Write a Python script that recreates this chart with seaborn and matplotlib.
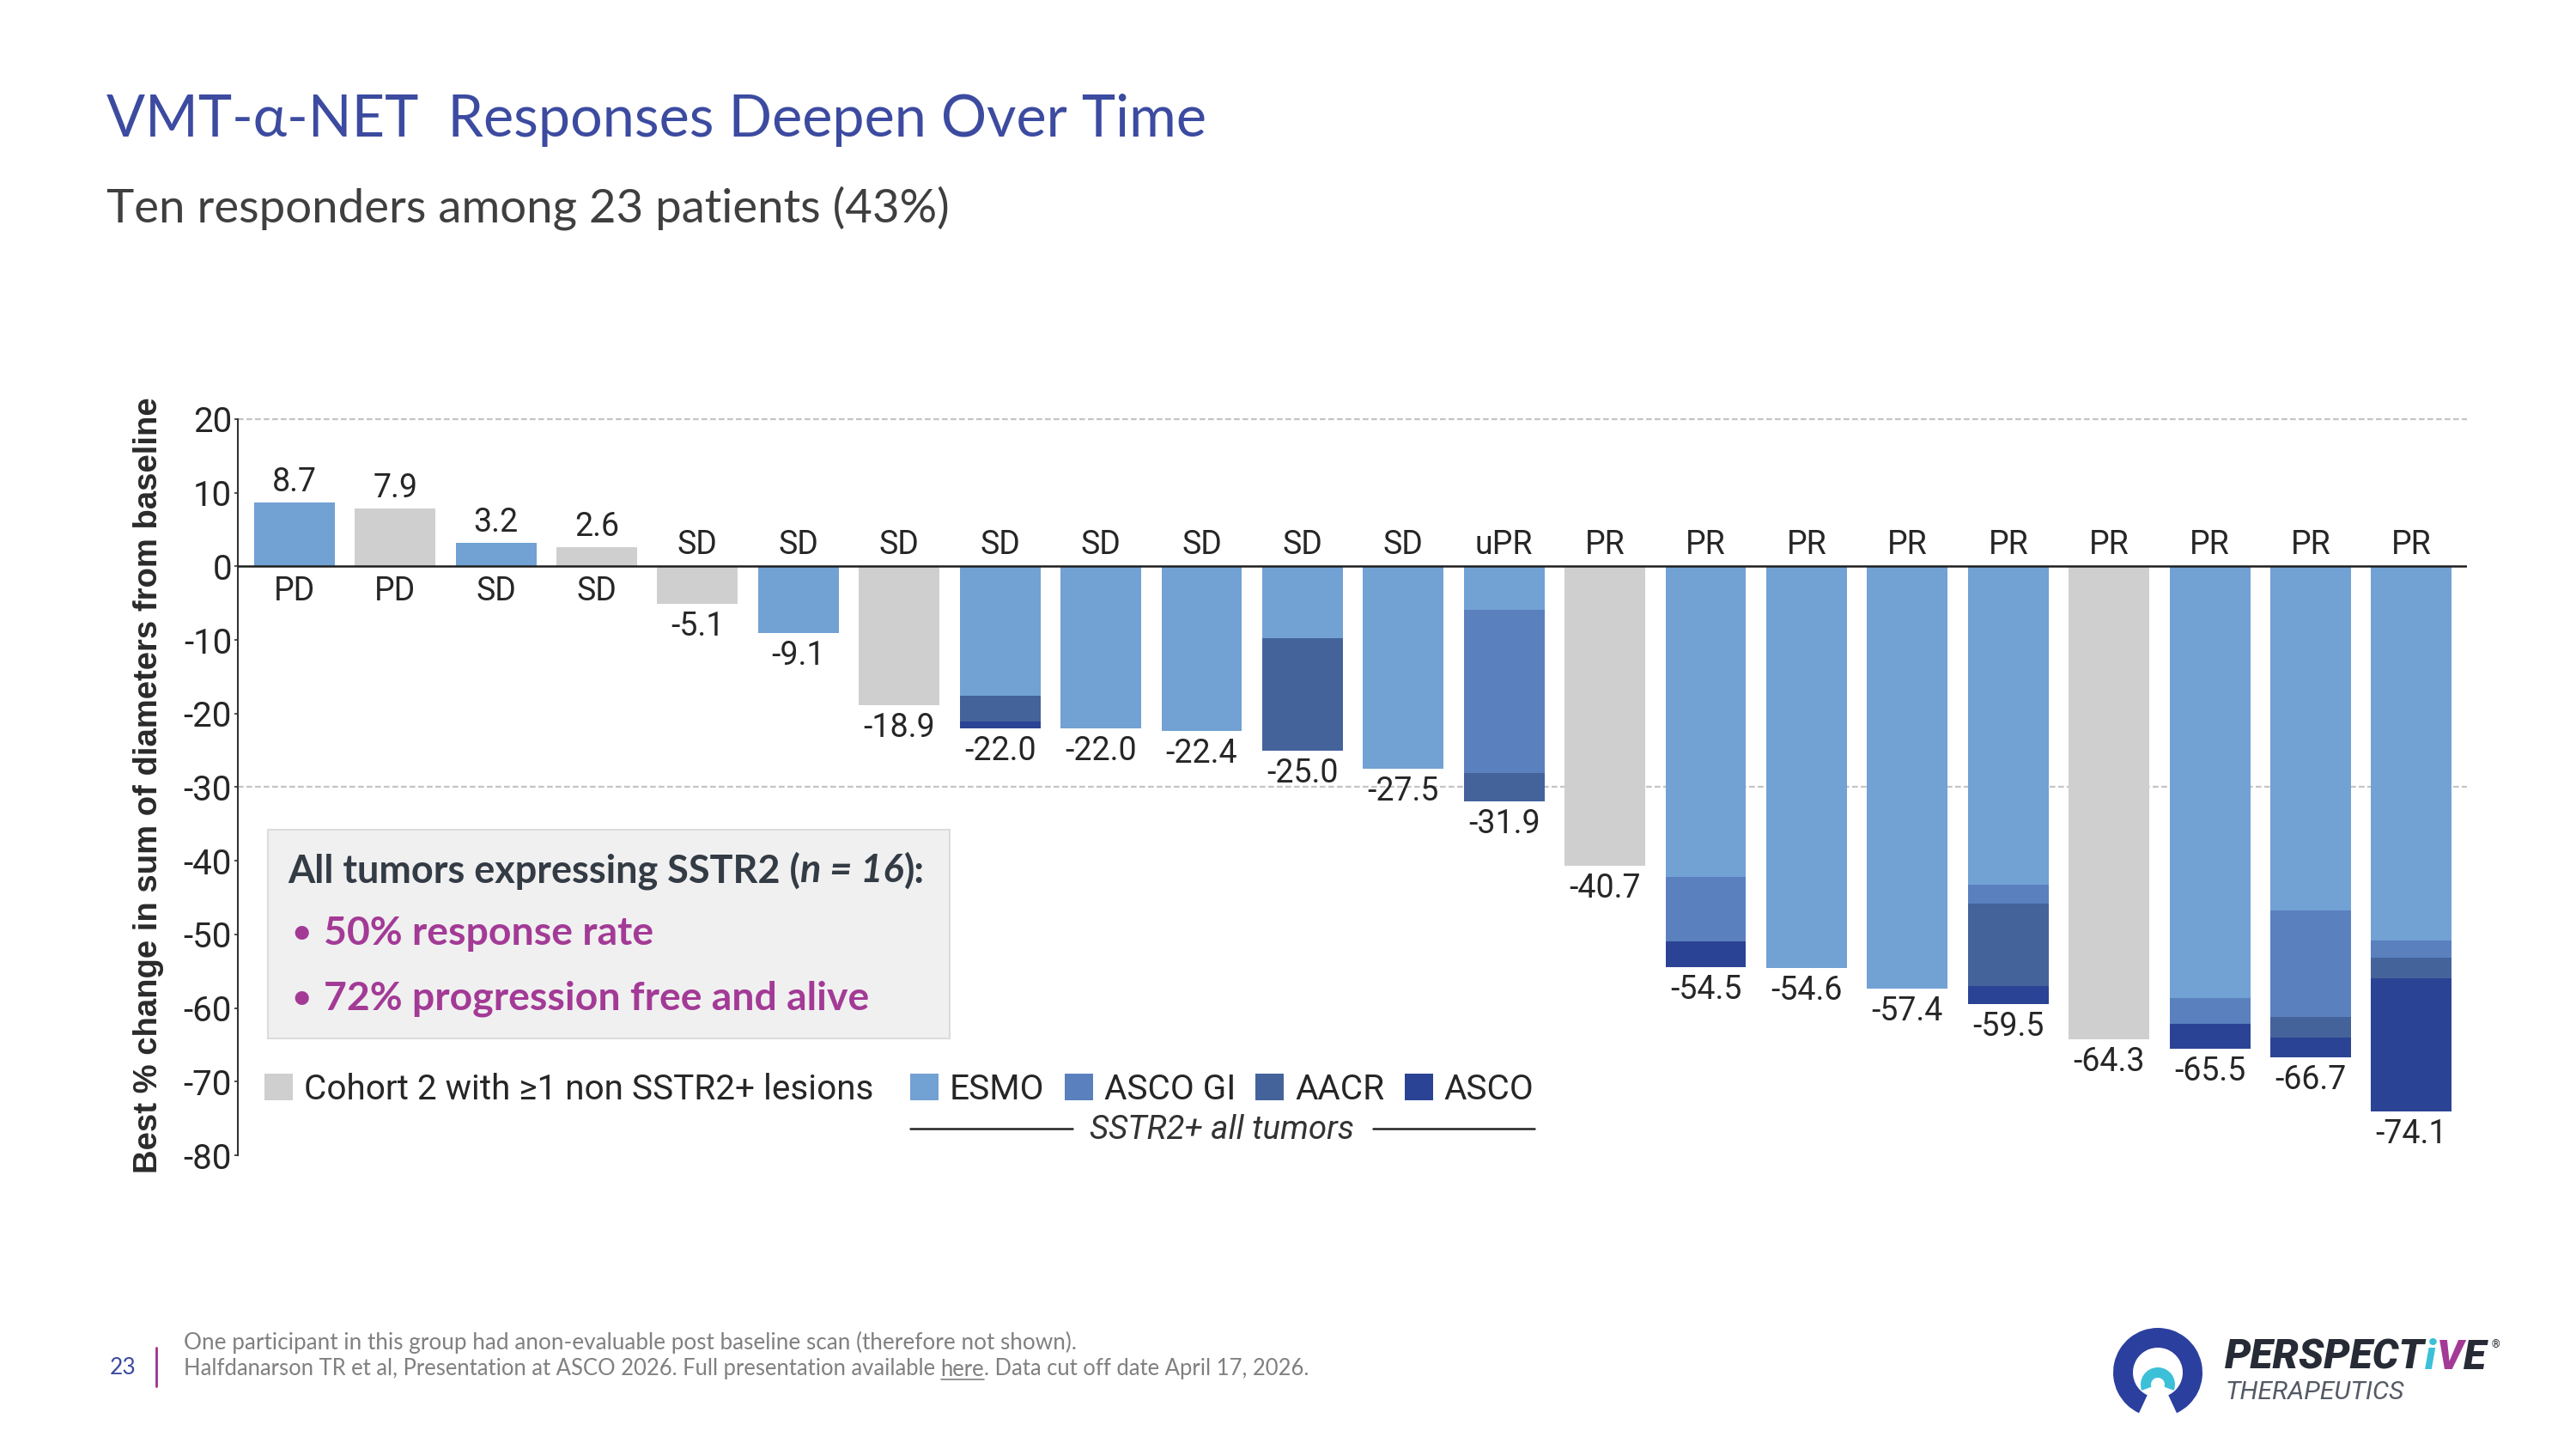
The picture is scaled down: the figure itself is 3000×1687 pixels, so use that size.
import numpy as np
import pandas as pd
import matplotlib
matplotlib.use("Agg")
import matplotlib.pyplot as plt
from matplotlib import font_manager as fm
from matplotlib.patches import Rectangle, Wedge, Patch
from matplotlib.lines import Line2D
import seaborn as sns

# ---------------- data ----------------
patients = list(range(22))
best_change = [8.7, 7.9, 3.2, 2.6, -5.1, -9.1, -18.9, -22.0, -22.0, -22.4, -25.0,
               -27.5, -31.9, -40.7, -54.5, -54.6, -57.4, -59.5, -64.3, -65.5, -66.7, -74.1]
response = ["PD", "PD", "SD", "SD", "SD", "SD", "SD", "SD", "SD", "SD", "SD",
            "SD", "uPR", "PR", "PR", "PR", "PR", "PR", "PR", "PR", "PR", "PR"]
# Cohort 2 with >=1 non SSTR2+ lesions (grey bars)
cohort2 = [None, 7.9, None, 2.6, -5.1, None, -18.9, None, None, None, None,
           None, None, -40.7, None, None, None, None, -64.3, None, None, None]
# SSTR2+ tumours: best change as reported at each meeting (cumulative depth)
esmo = [8.7, None, 3.2, None, None, -9.1, None, -17.6, -22.0, -22.4, -9.7,
        -27.5, -5.9, None, -42.2, -54.6, -57.4, -43.2, None, -58.7, -46.7, -50.8]
asco_gi = [8.7, None, 3.2, None, None, -9.1, None, -17.6, -22.0, -22.4, -9.7,
           -27.5, -28.1, None, -51.0, -54.6, -57.4, -45.8, None, -62.2, -61.2, -53.2]
aacr = [8.7, None, 3.2, None, None, -9.1, None, -21.1, -22.0, -22.4, -25.0,
        -27.5, -31.9, None, -51.0, -54.6, -57.4, -57.0, None, -62.2, -64.0, -56.0]
asco = [8.7, None, 3.2, None, None, -9.1, None, -22.0, -22.0, -22.4, -25.0,
        -27.5, -31.9, None, -54.5, -54.6, -57.4, -59.5, None, -65.5, -66.7, -74.1]
y_ticks = [20, 10, 0, -10, -20, -30, -40, -50, -60, -70, -80]

C_GRAY = "#D0CFD0"
C_ESMO = "#72A1D4"
C_GI = "#5A80BE"
C_AACR = "#44639B"
C_ASCO = "#2B4394"
TXT = "#262626"
MAGENTA = "#A33A96"
TITLE_BLUE = "#3C4BA0"

# ---------------- fonts ----------------
sns.set_theme(style="white")
names = {f.name for f in fm.fontManager.ttflist}
COND = "Liberation Sans Narrow" if "Liberation Sans Narrow" in names else "Roboto"
plt.rcParams["font.family"] = ["Roboto", "DejaVu Sans"]
SLIDE = ["Lato", "Open Sans", "DejaVu Sans"]

W, H = 3000, 1687
fig = plt.figure(figsize=(30, 16.87), dpi=100)
fig.patch.set_facecolor("white")
R = fig.canvas.get_renderer()


def fx(x):
    return x / W


def fy(y):
    return 1 - y / H


def fit(t, target):
    w = t.get_window_extent(R).width
    t.set_fontsize(t.get_fontsize() * target / w)
    return t


def runs(x, y, parts, size, target=None, **common):
    def draw(sz):
        texts, cur = [], x
        for s, kw, gap in parts:
            t = fig.text(fx(cur), fy(y), s, fontsize=sz, ha="left", va="center",
                         **{**common, **kw})
            texts.append(t)
            cur += t.get_window_extent(R).width + gap * sz * 100 / 72
        return texts, cur
    texts, end = draw(size)
    if target:
        tot = end - x
        for t in texts:
            t.remove()
        texts, end = draw(size * target / tot)
    return texts, end


# ---------------- axes ----------------
top_px, bot_px = 479.4, 1349.3
ax = fig.add_axes([fx(277), fy(bot_px), (2873 - 277) / W, (bot_px - top_px) / H])

ax.axhline(20, color="#C4C4C4", ls=(0, (3, 1.5)), lw=1.6, zorder=0)
ax.axhline(-30, color="#C4C4C4", ls=(0, (3, 1.5)), lw=1.6, zorder=0)

layers = [(asco, C_ASCO), (aacr, C_AACR), (asco_gi, C_GI), (esmo, C_ESMO), (cohort2, C_GRAY)]
for vals, col in layers:
    d = pd.DataFrame({"patient": patients, "change": vals}).dropna()
    sns.barplot(data=d, x="patient", y="change", order=patients, color=col,
                saturation=1, width=0.8, errorbar=None, linewidth=0, ax=ax, zorder=2)

ax.axhline(0, color="#1E1E1E", lw=1.8, zorder=3)
ax.set_xlim(-0.56, 21.55)
ax.set_ylim(-80.5, 21)
ax.set_xticks([])
ax.set_xlabel("")
ax.set_yticks(y_ticks)
ax.set_yticklabels([str(v) for v in y_ticks], family=COND, fontsize=29, color=TXT)
ax.tick_params(axis="y", left=True, length=3, width=1.2, color="#333333", pad=2)
sns.despine(ax=ax, bottom=True)
ax.spines["left"].set_color("#333333")
ax.spines["left"].set_linewidth(1.5)
ax.spines["left"].set_bounds(-80, 20)
ax.set_ylabel("Best % change in sum of diameters from baseline", family="Liberation Sans",
              fontweight="bold", fontsize=27.5, color="#2A2A2A")
ax.yaxis.set_label_coords(-0.0330, 0.5)

for i, (v, r) in enumerate(zip(best_change, response)):
    if v >= 0:
        ax.annotate(f"{v:.1f}", (i, v), xytext=(0, 17), textcoords="offset points",
                    ha="center", va="center", fontsize=27, color=TXT)
        ax.annotate(r, (i, 0), xytext=(0, -21), textcoords="offset points",
                    ha="center", va="center", fontsize=27, color=TXT)
    else:
        ax.annotate(r, (i, 0), xytext=(0, 18), textcoords="offset points",
                    ha="center", va="center", fontsize=27, color=TXT)
        ax.annotate(f"{v:.1f}", (i, v), xytext=(0, -19), textcoords="offset points",
                    ha="center", va="center", fontsize=27, color=TXT)

# ---------------- title ----------------
t = fig.text(fx(124), fy(140), "VMT-\u03b1-NET  Responses Deepen Over Time", ha="left",
             va="center", fontsize=50, color=TITLE_BLUE, family=SLIDE)
fit(t, 1282)
t = fig.text(fx(124), fy(242), "Ten responders among 23 patients (43%)", ha="left",
             va="center", fontsize=36, color="#3F3F3F", family=SLIDE)
fit(t, 982)

# ---------------- text box ----------------
fig.add_artist(Rectangle((fx(312), fy(1209)), (1106 - 312) / W, (1209 - 966) / H,
                         transform=fig.transFigure, facecolor="#F0F0F0",
                         edgecolor="#DCDCDC", lw=1.5, zorder=5))
runs(335, 1014, [("All tumors expressing SSTR2 (", {}, 0.0),
                 ("n = 16", {"style": "italic"}, 0.02),
                 ("):", {}, 0)],
     30, target=742, family=SLIDE, fontweight="bold", color="#333B45", zorder=6)
bt, _ = runs(377, 1163, [("72% progression free and alive", {}, 0)], 30, target=633,
             family=SLIDE, fontweight="bold", color=MAGENTA, zorder=6)
bsize = bt[0].get_fontsize()
fig.text(fx(377), fy(1087), "50% response rate", ha="left", va="center", fontsize=bsize,
         family=SLIDE, fontweight="bold", color=MAGENTA, zorder=6)
for yy in (1087, 1163):
    fig.text(fx(340), fy(yy), "\u2022", ha="left", va="center", fontsize=bsize * 0.8,
             family=SLIDE, fontweight="bold", color=MAGENTA, zorder=6)

# ---------------- legend ----------------
probe = fig.text(0, 0, "Cohort 2 with \u22651 non SSTR2+ lesions", fontsize=30, family=COND)
fs_leg = 30 * 664 / probe.get_window_extent(R).width
probe.remove()
hl = 23.8 / fs_leg
leg1 = fig.legend(handles=[Patch(facecolor=C_GRAY, edgecolor="none")],
                  labels=["Cohort 2 with \u22651 non SSTR2+ lesions"],
                  loc="center left", bbox_to_anchor=(fx(308), fy(1268)),
                  frameon=False, prop={"family": COND, "size": fs_leg},
                  handlelength=hl, handleheight=hl, handletextpad=9.4 / fs_leg,
                  borderpad=0, borderaxespad=0, labelcolor=TXT)
leg2 = fig.legend(handles=[Patch(facecolor=c, edgecolor="none") for c in (C_ESMO, C_GI, C_AACR, C_ASCO)],
                  labels=["ESMO", "ASCO GI", "AACR", "ASCO"], ncol=4,
                  loc="center left", bbox_to_anchor=(fx(1060), fy(1268)),
                  frameon=False, prop={"family": COND, "size": fs_leg},
                  handlelength=hl, handleheight=hl, handletextpad=9.4 / fs_leg,
                  columnspacing=16.6 / fs_leg,
                  borderpad=0, borderaxespad=0, labelcolor=TXT)
for x0, x1 in ((1060, 1249), (1599, 1787)):
    fig.add_artist(Line2D([fx(x0), fx(x1)], [fy(1314), fy(1314)], transform=fig.transFigure,
                          color="#222222", lw=1.8))
fig.text(fx(1423), fy(1316), "SSTR2+ all tumors", ha="center", va="center",
         fontsize=fs_leg * 0.95, family=COND, style="italic", color="#333333")

# ---------------- footer ----------------
fig.text(fx(128), fy(1592), "23", ha="left", va="center", fontsize=19, family=SLIDE,
         color=TITLE_BLUE)
fig.add_artist(Line2D([fx(182), fx(182)], [fy(1569), fy(1614)], transform=fig.transFigure,
                      color="#A0308F", lw=2))
t = fig.text(fx(214), fy(1563), "One participant in this group had anon-evaluable post baseline scan (therefore not shown).",
             ha="left", va="center", fontsize=14, family=SLIDE, color="#808080")
fit(t, 1041)
ft, _ = runs(214, 1594, [("Halfdanarson TR et al, Presentation at ASCO 2026. Full presentation available", {}, 0.25),
                         ("here", {}, 0.0),
                         (". Data cut off date April 17, 2026.", {}, 0)],
             14, target=1312, family=SLIDE, color="#808080")
bb = ft[1].get_window_extent(R)
fig.add_artist(Line2D([bb.x0 / W, bb.x1 / W], [(bb.y0 + 1) / H, (bb.y0 + 1) / H],
                      transform=fig.transFigure, color="#808080", lw=1.2))

# ---------------- logo ----------------
fig.add_artist(Wedge((2513 / 100, (H - 1598) / 100), 0.52, -65, 245, width=0.23,
                     transform=fig.dpi_scale_trans, facecolor="#2B3F9E", edgecolor="none"))
fig.add_artist(Wedge((2513 / 100, (H - 1612) / 100), 0.20, -20, 200, width=0.12,
                     transform=fig.dpi_scale_trans, facecolor="#3CC0D8", edgecolor="none"))
runs(2591, 1581, [("PERSPECT", {"color": "#262B36"}, 0),
                  ("i", {"color": "#3CC0D8"}, 0.02),
                  ("V", {"color": MAGENTA}, 0),
                  ("E", {"color": "#262B36"}, 0)],
     30, target=303, family="Roboto", fontweight="black", style="italic")
fig.text(fx(2902), fy(1566), "\u00ae", ha="left", va="center", fontsize=9, color="#262B36")
t = fig.text(fx(2591), fy(1621), "THERAPEUTICS", ha="left", va="center", fontsize=18,
             family="Roboto", style="italic", color="#555A66")
fit(t, 209)

fig.savefig("out.png", dpi=100, facecolor="white")
